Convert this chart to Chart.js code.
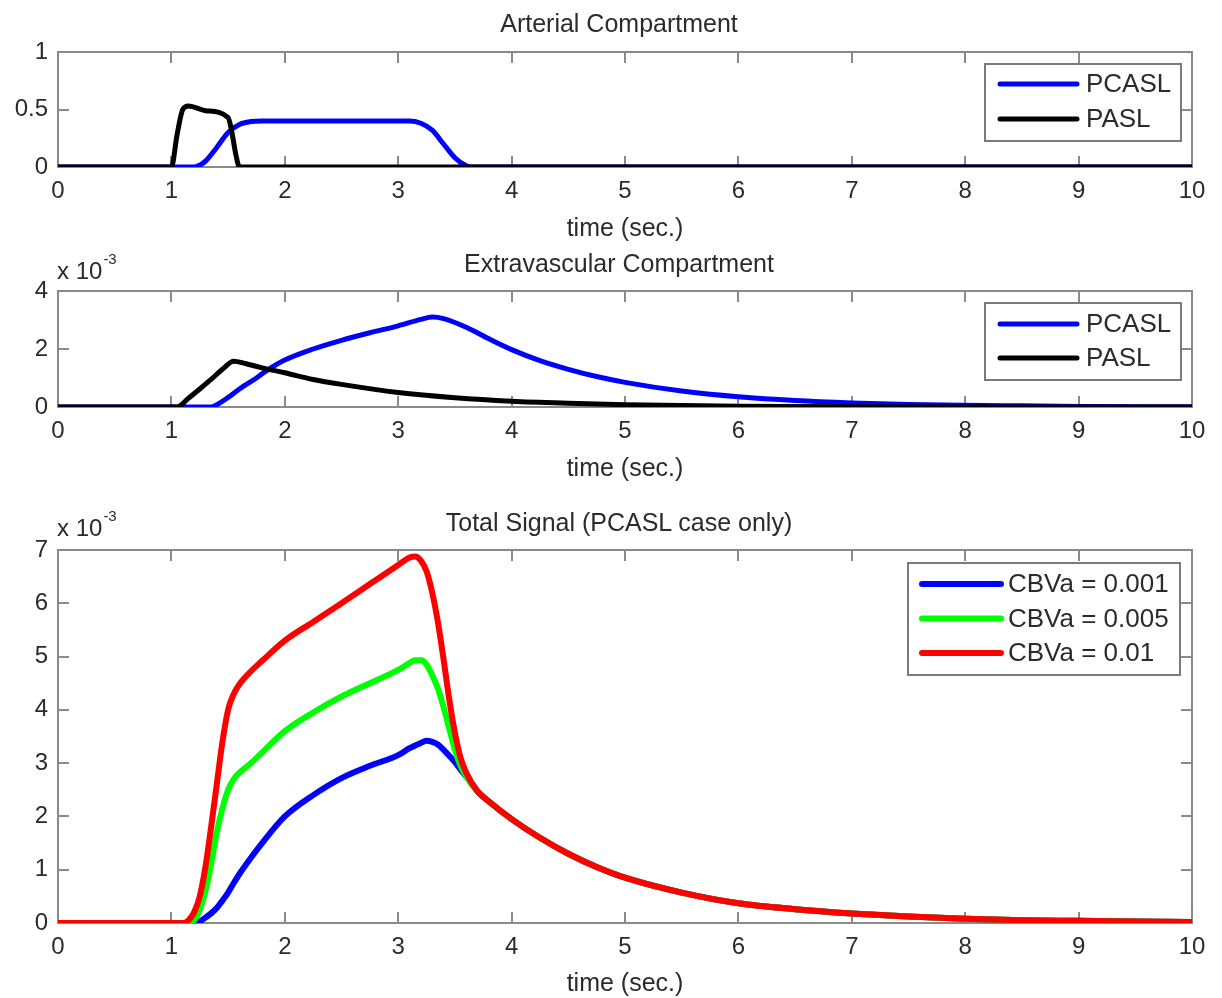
<!DOCTYPE html>
<html><head><meta charset="utf-8">
<script src="https://cdn.jsdelivr.net/npm/chart.js@4.4.1/dist/chart.umd.min.js"></script>
<style>
html,body{margin:0;padding:0;background:#fff;overflow:hidden}
#wrap{position:relative;width:1222px;height:998px;font-family:"Liberation Sans",Arial,sans-serif;color:#2b2b2b}
canvas{position:absolute;left:0}
.ttl{position:absolute;font-size:25px;line-height:25px;white-space:nowrap;transform:translate(-50%,-50%)}
.mult{position:absolute;font-size:24px;line-height:24px;white-space:nowrap}
.mult span{font-size:15px;position:relative;top:-15px;margin-left:1px}
</style></head><body>
<div id="wrap">
<canvas id="c1" width="1222" height="250" style="top:0"></canvas>
<canvas id="c2" width="1222" height="245" style="top:250px"></canvas>
<canvas id="c3" width="1222" height="503" style="top:495px"></canvas>
<div class="ttl" style="left:619px;top:23px">Arterial Compartment</div>
<div class="ttl" style="left:619px;top:263px">Extravascular Compartment</div>
<div class="ttl" style="left:619px;top:522px">Total Signal (PCASL case only)</div>
<div class="mult" style="left:57px;top:259px">x 10<span>-3</span></div>
<div class="mult" style="left:57px;top:516px">x 10<span>-3</span></div>
</div>
<script>
// ---------- tick labels ----------
const xTicks = [0,1,2,3,4,5,6,7,8,9,10];
const yTicksArterial = [0, 0.5, 1];
const yTicksExtra = [0, 2, 4];          // x 10^-3
const yTicksTotal = [0,1,2,3,4,5,6,7];  // x 10^-3
const xTitle = 'time (sec.)';

// ---------- Arterial compartment ----------
const artTimePCASL = [0, 1.2, 1.3, 1.4, 1.5, 1.6, 1.7, 1.8, 3.1, 3.2, 3.3, 3.4, 3.5, 3.6, 3.65, 10];
const artPCASL     = [0, 0, 0.05, 0.17, 0.3, 0.37, 0.395, 0.4, 0.4, 0.38, 0.32, 0.2, 0.08, 0.01, 0, 0];
const artTimePASL  = [0, 1.0, 1.05, 1.1, 1.15, 1.3, 1.5, 1.53, 1.57, 1.6, 10];
const artPASL      = [0, 0, 0.28, 0.5, 0.53, 0.49, 0.43, 0.32, 0.1, 0, 0];

// ---------- Extravascular compartment (x 10^-3) ----------
const exTimePCASL = [0, 1.35, 1.4, 1.5, 1.6, 1.75, 1.85, 2.0, 2.25, 2.5, 2.75, 3.0, 3.2, 3.3, 3.4, 3.6, 3.8, 4.0, 4.25, 4.5, 4.75, 5.0, 5.5, 6.0, 6.5, 7.0, 7.5, 8.0, 8.5, 9.0, 10];
const exPCASL     = [0, 0, 0.08, 0.33, 0.62, 1.0, 1.28, 1.62, 2.0, 2.3, 2.56, 2.8, 3.02, 3.1, 3.05, 2.75, 2.35, 1.98, 1.6, 1.3, 1.05, 0.85, 0.55, 0.35, 0.22, 0.14, 0.09, 0.06, 0.04, 0.02, 0.01];
const exTimePASL  = [0, 1.05, 1.15, 1.25, 1.35, 1.45, 1.55, 1.65, 1.8, 2.0, 2.25, 2.5, 3.0, 3.5, 4.0, 4.5, 5.0, 6.0, 7.0, 10];
const exPASL      = [0, 0, 0.3, 0.62, 0.95, 1.3, 1.58, 1.5, 1.35, 1.18, 0.95, 0.78, 0.5, 0.32, 0.2, 0.13, 0.08, 0.03, 0.01, 0];

// ---------- Total signal (x 10^-3) ----------
const totTime = [0, 1.1, 1.15, 1.2, 1.25, 1.3, 1.35, 1.4, 1.45, 1.5, 1.55, 1.6, 1.7, 1.8, 2.0, 2.25, 2.5, 2.75, 3.0, 3.1, 3.15, 3.2, 3.25, 3.3, 3.35, 3.4, 3.45, 3.5, 3.55, 3.6, 3.7, 3.8, 4.0, 4.25, 4.5, 4.75, 5.0, 5.5, 6.0, 6.5, 7.0, 7.5, 8.0, 8.5, 9.0, 10];
const totCBV001 = [0, 0, 0, 0, 0.03, 0.1, 0.18, 0.28, 0.42, 0.57, 0.75, 0.92, 1.22, 1.5, 2.0, 2.4, 2.72, 2.95, 3.15, 3.28, 3.33, 3.38, 3.42, 3.4, 3.35, 3.25, 3.14, 3.02, 2.88, 2.75, 2.47, 2.28, 1.95, 1.6, 1.3, 1.05, 0.85, 0.57, 0.37, 0.26, 0.18, 0.12, 0.08, 0.05, 0.04, 0.02];
const totCBV005 = [0, 0, 0, 0.05, 0.25, 0.6, 1.1, 1.7, 2.15, 2.5, 2.7, 2.82, 3.0, 3.2, 3.6, 3.95, 4.25, 4.5, 4.75, 4.88, 4.93, 4.93, 4.85, 4.65, 4.4, 4.05, 3.65, 3.25, 2.95, 2.75, 2.47, 2.28, 1.95, 1.6, 1.3, 1.05, 0.85, 0.57, 0.37, 0.26, 0.18, 0.12, 0.08, 0.05, 0.04, 0.02];
const totCBV01  = [0, 0, 0.05, 0.2, 0.5, 1.05, 1.8, 2.6, 3.4, 4.0, 4.3, 4.48, 4.72, 4.92, 5.3, 5.65, 6.0, 6.36, 6.72, 6.86, 6.88, 6.8, 6.6, 6.2, 5.65, 4.95, 4.2, 3.57, 3.1, 2.82, 2.47, 2.28, 1.95, 1.6, 1.3, 1.05, 0.85, 0.57, 0.37, 0.26, 0.18, 0.12, 0.08, 0.05, 0.04, 0.02];

// ---------- helpers ----------
const FONT = '"Liberation Sans", Arial, sans-serif';
const TXT = '#2b2b2b';
Chart.defaults.font.family = FONT;
Chart.defaults.color = TXT;

const pts = (t, v) => t.map((x, i) => ({x: x, y: v[i]}));
const ds = (label, t, v, color, order, lw) => ({
  label, data: pts(t, v), borderColor: color, backgroundColor: color,
  borderWidth: lw, pointRadius: 0, fill: false, order,
  cubicInterpolationMode: 'monotone', borderCapStyle: 'round', borderJoinStyle: 'round'
});

function boxPlugin(leg) {
  return {
    id: 'matlabBox',
    beforeDatasetsDraw(chart) {
      const {ctx, chartArea: a, scales: {x, y}} = chart;
      ctx.save();
      ctx.strokeStyle = '#8a8a8a';
      ctx.lineWidth = 2;
      const L = 11;
      ctx.beginPath();
      x.ticks.forEach(t => {
        const p = Math.round(x.getPixelForValue(t.value));
        if (p <= a.left + 2 || p >= a.right - 2) return;
        ctx.moveTo(p, a.top); ctx.lineTo(p, a.top + L);
        ctx.moveTo(p, a.bottom); ctx.lineTo(p, a.bottom - L);
      });
      y.ticks.forEach(t => {
        const p = Math.round(y.getPixelForValue(t.value));
        if (p <= a.top + 2 || p >= a.bottom - 2) return;
        ctx.moveTo(a.left, p); ctx.lineTo(a.left + L, p);
        ctx.moveTo(a.right, p); ctx.lineTo(a.right - L, p);
      });
      ctx.stroke();
      ctx.strokeRect(a.left, a.top, a.right - a.left, a.bottom - a.top);
      ctx.restore();
    },
    afterDatasetsDraw(chart) {
      const {ctx, chartArea: a} = chart;
      const bx = a.right - leg.right - leg.width, by = a.top + leg.top;
      ctx.save();
      ctx.fillStyle = '#fff';
      ctx.fillRect(bx, by, leg.width, leg.height);
      ctx.strokeStyle = '#7a7a7a';
      ctx.lineWidth = 2;
      ctx.strokeRect(bx, by, leg.width, leg.height);
      ctx.font = '26px ' + FONT;
      ctx.textBaseline = 'middle';
      ctx.textAlign = 'left';
      ctx.beginPath();
      ctx.rect(bx, by, leg.width - 7, leg.height);
      ctx.clip();
      leg.items.forEach((idx, i) => {
        const d = chart.data.datasets[idx];
        const yy = by + leg.row0 + i * leg.gap;
        ctx.strokeStyle = d.borderColor;
        ctx.lineWidth = leg.lw;
        ctx.lineCap = 'round';
        ctx.beginPath();
        ctx.moveTo(bx + leg.lx0, yy); ctx.lineTo(bx + leg.lx1, yy);
        ctx.stroke();
        ctx.fillStyle = TXT;
        ctx.fillText(d.label, bx + leg.tx, yy + 1);
      });
      ctx.restore();
    }
  };
}

function makeChart(id, datasets, yTicks, yMax, geo, leg) {
  const canvas = document.getElementById(id);
  const H = canvas.height;
  const scaleBottom = geo.titleCenter + 12;
  const padBottom = H - scaleBottom;
  const xHeight = scaleBottom - geo.plotBottom;
  return new Chart(canvas, {
    type: 'line',
    data: {datasets},
    options: {
      responsive: false, animation: false, devicePixelRatio: 1,
      layout: {padding: {left: 0, right: 30, top: geo.plotTop, bottom: padBottom}},
      plugins: {legend: {display: false}, tooltip: {enabled: false}, title: {display: false}},
      scales: {
        x: {
          type: 'linear', min: 0, max: 10,
          grid: {display: false, drawTicks: false}, border: {display: false},
          afterBuildTicks: s => { s.ticks = xTicks.map(v => ({value: v})); },
          afterFit: s => { s.height = xHeight; },
          ticks: {font: {size: 24}, color: TXT, padding: 10, maxRotation: 0, autoSkip: false,
                  callback: v => String(v)},
          title: {display: true, text: xTitle, font: {size: 25, lineHeight: 1}, color: TXT, padding: 0}
        },
        y: {
          type: 'linear', min: 0, max: yMax,
          grid: {display: false, drawTicks: false}, border: {display: false},
          afterBuildTicks: s => { s.ticks = yTicks.map(v => ({value: v})); },
          afterFit: s => { s.width = 58; },
          ticks: {font: {size: 24}, color: TXT, padding: 10, callback: v => String(v)}
        }
      }
    },
    plugins: [boxPlugin(leg)]
  });
}

makeChart('c1', [
  ds('PCASL', artTimePCASL, artPCASL, '#0000ff', 1, 5),
  ds('PASL', artTimePASL, artPASL, '#000000', 0, 5)
], yTicksArterial, 1, {plotTop: 52, plotBottom: 167, titleCenter: 230},
{right: 11, top: 12, width: 196, height: 77, row0: 20, gap: 35, lx0: 15, lx1: 92, tx: 101, lw: 5, items: [0, 1]});

makeChart('c2', [
  ds('PCASL', exTimePCASL, exPCASL, '#0000ff', 1, 5),
  ds('PASL', exTimePASL, exPASL, '#000000', 0, 5)
], yTicksExtra, 4, {plotTop: 41, plotBottom: 157, titleCenter: 220},
{right: 11, top: 12, width: 196, height: 77, row0: 21, gap: 34, lx0: 15, lx1: 92, tx: 101, lw: 5, items: [0, 1]});

makeChart('c3', [
  ds('CBVa = 0.001', totTime, totCBV001, '#0000ff', 2, 6),
  ds('CBVa = 0.005', totTime, totCBV005, '#00ff00', 1, 6),
  ds('CBVa = 0.01', totTime, totCBV01, '#ff0000', 0, 6)
], yTicksTotal, 7, {plotTop: 55, plotBottom: 428, titleCenter: 490},
{right: 12, top: 13, width: 272, height: 112, row0: 21, gap: 34.5, lx0: 14, lx1: 93, tx: 100, lw: 6, items: [0, 1, 2]});
</script>
</body></html>
